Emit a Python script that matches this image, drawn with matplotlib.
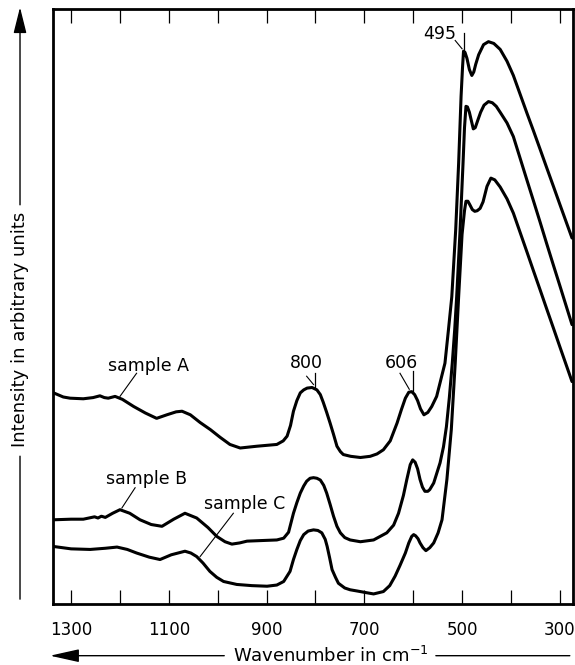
import matplotlib
matplotlib.use('Agg')
import matplotlib.pyplot as plt

# wavenumber (cm-1) / intensity (arbitrary units)
wn_a = [1336, 1316, 1302, 1275, 1255, 1241, 1232, 1224, 1210, 1195, 1172, 1148, 1125, 1104, 1085,
        1073, 1056, 1036, 1015, 995, 975, 954, 920, 879, 866, 858, 851, 845, 838, 831, 824, 817,
        807, 797, 790, 784, 777, 770, 763, 756, 749, 743, 728, 708, 688, 674, 661, 647, 633, 624,
        616, 609, 603, 597, 591, 585, 578, 570, 562, 552, 545, 535, 528, 521, 513, 507, 502, 499,
        497, 494, 490, 485, 480, 476, 472, 466, 456, 446, 435, 422, 408, 395, 381, 367, 354, 340,
        327, 313, 300, 286, 275]
int_a = [.353, .346, .344, .343, .345, .348, .345, .344, .347, .342, .330, .319, .310, .316, .321,
         .322, .316, .303, .291, .278, .266, .260, .263, .266, .272, .280, .298, .322, .340, .353,
         .358, .361, .362, .358, .350, .337, .320, .302, .283, .263, .254, .249, .246, .244, .246,
         .250, .257, .272, .302, .325, .344, .354, .355, .350, .340, .326, .316, .320, .330, .347,
         .370, .403, .458, .515, .628, .740, .853, .902, .929, .927, .917, .898, .888, .894, .907,
         .923, .940, .945, .942, .932, .912, .888, .856, .824, .795, .763, .733, .701, .671, .639,
         .614]

wn_b = [1336, 1300, 1275, 1252, 1245, 1238, 1230, 1215, 1200, 1180, 1159, 1136, 1114, 1090, 1067,
        1043, 1020, 1002, 985, 971, 955, 940, 910, 879, 865, 855, 845, 838, 831, 824, 818, 811,
        804, 797, 790, 783, 777, 770, 763, 756, 749, 740, 729, 708, 681, 654, 640, 630, 620, 613,
        606, 601, 596, 591, 586, 581, 576, 570, 566, 558, 545, 538, 532, 526, 520, 515, 511, 504,
        498, 495, 492, 489, 485, 481, 477, 473, 468, 462, 455, 446, 438, 430, 422, 408, 395, 381,
        367, 354, 340, 327, 313, 300, 286, 275]
int_b = [.139, .140, .140, .144, .142, .145, .143, .150, .156, .150, .139, .131, .128, .140, .150,
         .142, .126, .111, .102, .098, .100, .103, .104, .105, .108, .118, .150, .168, .184, .196,
         .204, .209, .210, .209, .206, .197, .184, .165, .145, .128, .117, .109, .105, .102, .105,
         .117, .130, .150, .180, .207, .232, .240, .236, .225, .207, .194, .187, .187, .190, .201,
         .235, .262, .296, .345, .403, .460, .515, .628, .740, .800, .836, .835, .826, .812, .798,
         .800, .812, .826, .838, .844, .842, .836, .826, .808, .785, .748, .711, .677, .640, .605,
         .568, .534, .497, .468]

wn_c = [1336, 1300, 1261, 1230, 1206, 1185, 1166, 1140, 1118, 1095, 1067, 1055, 1043, 1030, 1016,
        1002, 988, 961, 930, 899, 879, 865, 852, 845, 838, 831, 824, 815, 804, 795, 787, 780, 776,
        771, 766, 759, 753, 740, 729, 715, 695, 681, 661, 648, 637, 627, 616, 609, 603, 599, 595,
        590, 586, 580, 574, 566, 558, 549, 541, 531, 522, 514, 507, 500, 495, 492, 488, 484, 479,
        474, 469, 463, 457, 449, 441, 433, 422, 408, 395, 381, 367, 354, 340, 327, 313, 300, 286,
        275]
int_c = [.094, .090, .089, .091, .093, .089, .083, .076, .072, .080, .086, .083, .077, .066, .052,
         .042, .035, .030, .028, .027, .029, .035, .052, .072, .089, .104, .114, .120, .122, .121,
         .117, .106, .094, .075, .055, .042, .032, .024, .021, .019, .016, .014, .018, .028, .044,
         .062, .083, .100, .111, .114, .112, .107, .100, .092, .087, .092, .100, .117, .139, .207,
         .291, .403, .515, .620, .660, .676, .676, .670, .662, .659, .660, .664, .675, .701, .715,
         .712, .700, .680, .656, .623, .590, .559, .526, .495, .462, .431, .398, .372]

x_ticks = [1300, 1200, 1100, 1000, 900, 800, 700, 600, 500, 400, 300]
x_ticklabels = ['1300', '', '1100', '', '900', '', '700', '', '500', '', '300']

# peak marks: (label, text x, text y, slant from, slant to, peak x, peak y, mark top)
peaks = [('495', 545, 0.958, (514, 0.947), (500, 0.933), 497, 0.929, 0.960),
         ('800', 819, 0.403, (818, 0.381), (804, 0.367), 801, 0.361, 0.386),
         ('606', 625, 0.403, (627, 0.386), (608, 0.359), 601, 0.355, 0.389)]
# sample names: (label, text x, text y, leader from, leader to)
samples = [('sample A', 1141, 0.399, (1166, 0.386), (1200, 0.347)),
           ('sample B', 1145, 0.208, (1169, 0.193), (1196, 0.159)),
           ('sample C', 944, 0.166, (968, 0.150), (1036, 0.077))]

fig = plt.figure(figsize=(5.75, 6.65), dpi=100)
ax = fig.add_axes([0.0922, 0.0917, 0.9043, 0.8947])

for wn, inten in [(wn_a, int_a), (wn_b, int_b), (wn_c, int_c)]:
    ax.plot(wn, inten, color='black', lw=2.2, solid_joinstyle='round', solid_capstyle='round')

for lab, tx, ty, s0, s1, px, py, ptop in peaks:
    ax.text(tx, ty, lab, ha='center', va='center', fontsize=12.5)
    ax.plot([px, px], [py, ptop], color='black', lw=0.9)
    ax.plot([s0[0], s1[0]], [s0[1], s1[1]], color='black', lw=0.8)

for lab, tx, ty, p0, p1 in samples:
    ax.text(tx, ty, lab, ha='center', va='center', fontsize=12.5)
    ax.plot([p0[0], p1[0]], [p0[1], p1[1]], color='black', lw=0.8)

ax.set_xlim(1337, 273)
ax.set_ylim(-0.003, 1.0)
ax.set_xticks(x_ticks)
ax.set_xticklabels(x_ticklabels)
ax.set_yticks([])
ax.tick_params(axis='x', direction='in', length=10, width=0.9, top=True,
               labelsize=12, pad=12)
for sp in ax.spines.values():
    sp.set_linewidth(2.0)

# axis labels with the long arrows
fig.text(0.0348, 0.504, 'Intensity in arbitrary units', rotation=90,
         ha='center', va='center', fontsize=13)
ax.annotate('', xy=(0.0348, 0.989), xytext=(0.0348, 0.692), xycoords='figure fraction',
            arrowprops=dict(arrowstyle='-|>,head_length=1.6,head_width=0.4', lw=1.0,
                            color='black', shrinkA=0, shrinkB=0, mutation_scale=10))
ax.annotate('', xy=(0.0348, 0.099), xytext=(0.0348, 0.314), xycoords='figure fraction',
            arrowprops=dict(arrowstyle='-', lw=1.0, color='black', shrinkA=0, shrinkB=0))

fig.text(0.576, 0.014, 'Wavenumber in cm$^{-1}$', ha='center', va='center', fontsize=13)
ax.annotate('', xy=(0.087, 0.014), xytext=(0.39, 0.014), xycoords='figure fraction',
            arrowprops=dict(arrowstyle='-|>,head_length=1.8,head_width=0.4', lw=1.0,
                            color='black', shrinkA=0, shrinkB=0, mutation_scale=10))
ax.annotate('', xy=(0.758, 0.014), xytext=(0.991, 0.014), xycoords='figure fraction',
            arrowprops=dict(arrowstyle='-', lw=1.0, color='black', shrinkA=0, shrinkB=0))

plt.savefig('out.png', dpi=100)
